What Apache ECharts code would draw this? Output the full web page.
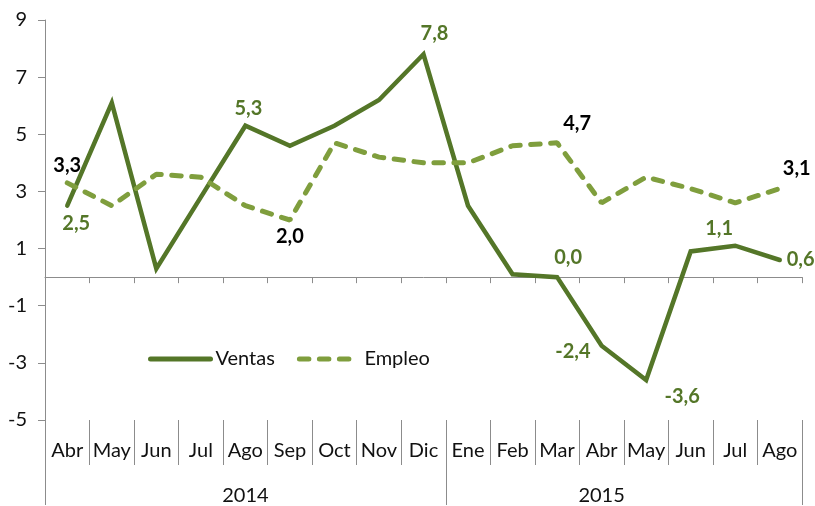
<!DOCTYPE html>
<html>
<head>
<meta charset="utf-8">
<script src="https://cdn.jsdelivr.net/npm/echarts@6/dist/echarts.min.js"></script>
<style>
  html, body { margin: 0; padding: 0; background: #fff; }
  #container { width: 815px; height: 506px; }
</style>
</head>
<body>
<div id="container"></div>
<script>
var months = ["Abr", "May", "Jun", "Jul", "Ago", "Sep", "Oct", "Nov", "Dic",
  "Ene", "Feb", "Mar", "Abr", "May", "Jun", "Jul", "Ago"];
var ventas = [2.5, 6.1, 0.3, 2.8, 5.3, 4.6, 5.3, 6.2, 7.8, 2.5, 0.1, 0.0, -2.4, -3.6, 0.9, 1.1, 0.6];
var empleo = [3.3, 2.5, 3.6, 3.5, 2.5, 2.0, 4.7, 4.2, 4.0, 4.0, 4.6, 4.7, 2.6, 3.5, 3.1, 2.6, 3.1];
var years = ["2014", "2015"];
var yearBounds = [0, 9, 17];
var yTicks = { min: -5, max: 9, step: 2 };

var dom = document.getElementById("container");
var myChart = echarts.init(dom);
var font = "Lato, 'Open Sans', sans-serif";
var cVentas = "#547628";
var cEmpleo = "#7f9e3d";

// which points carry a label, and where it goes
var ventasLbl = {
  0: ["bottom", 9, 1],
  4: ["top", 3, 0],
  8: ["top", 11, -4],
  11: ["top", 11, -3],
  12: ["left", -4, 6],
  13: ["bottom", 36, 0],
  15: ["top", -16, 0],
  16: ["right", 0, 0]
};
var empleoLbl = {
  0: ["top", 0, 0],
  5: ["bottom", 0, 0],
  11: ["top", 20, -2],
  16: ["top", 17, -3]
};

function fmt(v) {
  return v.toFixed(1).replace(".", ",");
}

function buildData(values, lbls, color) {
  return values.map(function (v, i) {
    var item = { value: v };
    if (lbls[i]) {
      item.label = {
        show: true,
        position: lbls[i][0],
        offset: [lbls[i][1], lbls[i][2]],
        distance: 7,
        color: color,
        fontFamily: font,
        fontWeight: "bold",
        fontSize: 20,
        formatter: function (p) { return fmt(p.value); }
      };
    }
    return item;
  });
}

var axisGray = "#8c8c8c";

var option = {
  animation: false,
  backgroundColor: "#fff",
  grid: { left: 45, right: 13, top: 20, bottom: 85 },
  legend: {
    left: 143,
    top: 344,
    itemWidth: 60,
    itemHeight: 4,
    itemGap: 22,
    textStyle: { fontFamily: font, fontSize: 20, color: "#111" },
    data: [
      { name: "Ventas", lineStyle: { width: 5, cap: "round" } },
      { name: "Empleo", lineStyle: { width: 5, cap: "round" } }
    ]
  },
  xAxis: [
    {
      type: "category",
      data: months,
      position: "bottom",
      axisLine: { onZero: true, lineStyle: { color: axisGray, width: 1 } },
      axisTick: { show: true, length: 6, lineStyle: { color: axisGray } },
      axisLabel: { show: false }
    },
    {
      type: "category",
      data: months,
      position: "bottom",
      axisLine: { show: false, onZero: false },
      axisTick: { show: true, length: 45, lineStyle: { color: axisGray } },
      axisLabel: { fontFamily: font, fontSize: 20, color: "#111", margin: 21, interval: 0 }
    },
    {
      type: "value",
      min: 0,
      max: 17,
      position: "bottom",
      offset: 45,
      axisLine: { show: false, onZero: false },
      splitLine: { show: false },
      axisTick: {
        show: true,
        length: 40,
        customValues: yearBounds,
        lineStyle: { color: axisGray }
      },
      axisLabel: {
        fontFamily: font,
        fontSize: 20,
        color: "#111",
        margin: 21,
        customValues: [4.5, 12.5],
        formatter: function (v) { return v < 9 ? years[0] : years[1]; }
      }
    }
  ],
  yAxis: {
    type: "value",
    min: yTicks.min,
    max: yTicks.max,
    interval: yTicks.step,
    splitLine: { show: false },
    axisLine: { show: true, lineStyle: { color: axisGray } },
    axisTick: { show: true, length: 7, lineStyle: { color: axisGray } },
    axisLabel: { fontFamily: font, fontSize: 20, color: "#111", margin: 18 }
  },
  series: [
    {
      name: "Ventas",
      type: "line",
      xAxisIndex: 0,
      symbol: "circle",
      symbolSize: 0,
      showSymbol: true,
      color: cVentas,
      lineStyle: { color: cVentas, width: 4.5, cap: "round", join: "miter" },
      data: buildData(ventas, ventasLbl, cVentas),
      z: 2
    },
    {
      name: "Empleo",
      type: "line",
      xAxisIndex: 0,
      symbol: "circle",
      symbolSize: 0,
      showSymbol: true,
      color: cEmpleo,
      lineStyle: { color: cEmpleo, width: 5, type: [9.5, 10.5], cap: "round" },
      data: buildData(empleo, empleoLbl, "#000"),
      z: 3
    }
  ]
};

myChart.setOption(option);
</script>
</body>
</html>
